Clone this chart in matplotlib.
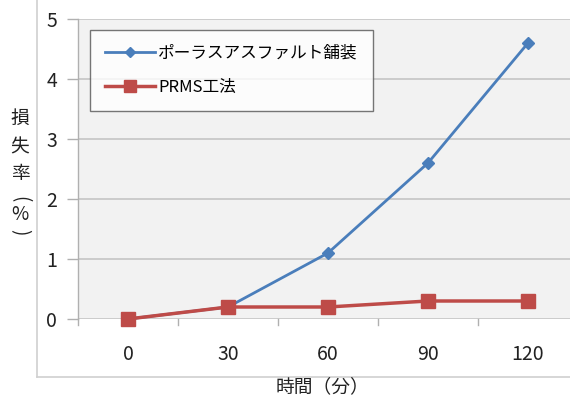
import matplotlib
matplotlib.use("Agg")
import matplotlib.pyplot as plt
from matplotlib.lines import Line2D

plt.rcParams['font.family'] = ['Noto Sans CJK JP', 'DejaVu Sans']

times = ['0', '30', '60', '90', '120']
porous = [0, 0.2, 1.1, 2.6, 4.6]
prms = [0, 0.2, 0.2, 0.3, 0.3]
yticks = [0, 1, 2, 3, 4, 5]
series_names = ['ポーラスアスファルト舗装', 'PRMS工法']

W, H = 570, 405
fig = plt.figure(figsize=(W / 100, H / 100), dpi=100)

# plot area in pixel terms
x0, x1 = 78, 578
y0, y1 = 319, 19
ax = fig.add_axes([x0 / W, (H - y0) / H, (x1 - x0) / W, (y0 - y1) / H])
ax.set_facecolor('#f2f2f2')

xs = list(range(len(times)))
ax.set_xlim(-0.5, len(times) - 0.5)
ax.set_ylim(0, 5)

for y in yticks:
    ax.axhline(y, color='#c8c8c8', lw=1.3, zorder=1)

blue = '#4a7ebb'
red = '#be4b48'
ax.plot(xs, porous, color=blue, lw=2.0, marker='D', ms=6, zorder=3, clip_on=False)
ax.plot(xs, prms, color=red, lw=2.5, marker='s', ms=10, zorder=4, clip_on=False)

for s in ['top', 'right', 'bottom']:
    ax.spines[s].set_visible(False)
ax.spines['left'].set_color('#b0b0b0')
ax.spines['left'].set_linewidth(1.0)

tick_color = '#222222'
ax.set_yticks(yticks)
ax.set_yticklabels([str(v) for v in yticks], fontsize=14, color=tick_color)
ax.tick_params(axis='y', length=8, color='#b0b0b0', width=1.0, pad=7)

ax.set_xticks(xs)
ax.set_xticklabels(times, fontsize=14, color=tick_color)
ax.tick_params(axis='x', length=0, pad=18)
# boundary ticks between categories
for b in [i - 0.5 for i in range(len(times))]:
    ax.plot([b, b], [0, -0.1], color='#b0b0b0', lw=1.0, clip_on=False, zorder=2)

# outer chart frame
fig.add_artist(Line2D([37 / W, 37 / W], [1, (H - 377) / H], color='#d0d0d0', lw=1.2))
fig.add_artist(Line2D([37 / W, 1], [(H - 377) / H, (H - 377) / H], color='#d0d0d0', lw=1.2))

# axis titles
fig.text(322 / W, 1 - 387 / H, '時間（分）', ha='center', va='center', fontsize=13.5, color=tick_color)
# vertical y title: stacked characters, parentheses turned sideways
ylabel_chars = [('損', 118, 0), ('失', 147, 0), ('率', 174, 0),
                ('(', 199, -90), ('%', 215, 0), (')', 232, -90)]
for ch, py, rot in ylabel_chars:
    fig.text(20 / W, 1 - py / H, ch, ha='center', va='center', rotation=rot,
             fontsize=13.5, color=tick_color)

handles = [Line2D([], [], color=blue, lw=2.0, marker='D', ms=5),
           Line2D([], [], color=red, lw=2.5, marker='s', ms=8)]
leg = ax.legend(handles, series_names, loc='upper left',
                bbox_to_anchor=((90 - x0) / (x1 - x0), (y0 - 30) / (y0 - y1)),
                fontsize=12, frameon=True, fancybox=False, handlelength=3.0,
                labelspacing=1.0, borderpad=0.9, borderaxespad=0, handletextpad=0.2)
leg.get_frame().set_edgecolor('#555555')
leg.get_frame().set_linewidth(1.0)
leg.get_frame().set_facecolor('white')
leg.set_zorder(5)

fig.savefig('out.png', dpi=100)
